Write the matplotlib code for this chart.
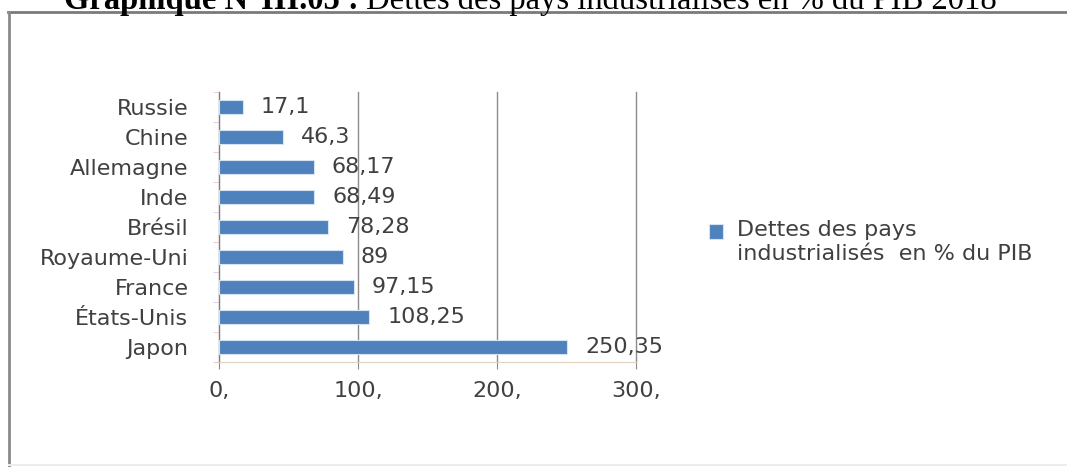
import matplotlib.pyplot as plt
from matplotlib.lines import Line2D

# debt as % of GDP, listed top to bottom
countries = ["Russie", "Chine", "Allemagne", "Inde", "Brésil",
             "Royaume-Uni", "France", "États-Unis", "Japon"]
debt = [17.1, 46.3, 68.17, 68.49, 78.28, 89, 97.15, 108.25, 250.35]
debt_labels = ["17,1", "46,3", "68,17", "68,49", "78,28",
               "89", "97,15", "108,25", "250,35"]
x_ticks = [0, 100, 200, 300]
x_tick_labels = ["0,", "100,", "200,", "300,"]
series_name = "Dettes des pays\nindustrialisés  en % du PIB"
title_bold = "Graphique N°III.05 :"
title_rest = "Dettes des pays industrialisés en % du PIB 2018"

W, H = 1067, 467
TXT = "#404040"
FS = 16

fig = plt.figure(figsize=(W / 100, H / 100), dpi=100)
ax = fig.add_axes([219 / W, 1 - 362 / H, (636 - 219) / W, (362 - 92) / H])

ypos = list(range(len(countries)))
ax.barh(ypos, debt, height=0.45, color="#4f81bd", edgecolor="#d5e3f3",
        linewidth=0.8, label=series_name, zorder=3)

for y, v, lab in zip(ypos, debt, debt_labels):
    ax.annotate(lab, (v, y), xytext=(13, 0), textcoords="offset points",
                va="center", ha="left", fontsize=FS, color=TXT, zorder=4)

ax.set_xlim(0, 300)
ax.set_ylim(len(countries) - 0.5, -0.5)
ax.set_xticks(x_ticks)
ax.set_xticklabels(x_tick_labels)
ax.set_yticks(ypos)
ax.set_yticklabels(countries)
ax.set_yticks([i - 0.5 for i in range(len(countries) + 1)], minor=True)

ax.xaxis.grid(True, color="#8c8c8c", linewidth=1)
for gl in ax.get_xgridlines():
    gl.set_clip_on(False)
ax.set_axisbelow(True)
for s in ("top", "right"):
    ax.spines[s].set_visible(False)
ax.spines["left"].set_color("#7f7f7f")
ax.spines["bottom"].set_color("#e2d2c2")

ax.tick_params(axis="x", length=5, color="#8c8c8c", labelsize=FS,
               labelcolor=TXT, pad=9)
ax.tick_params(axis="y", which="major", length=0, labelsize=FS,
               labelcolor=TXT, pad=22)
ax.tick_params(axis="y", which="minor", length=4, color="#e0c4d4")

leg = fig.legend(loc="center left", bbox_to_anchor=(700 / W, 1 - 242 / H),
                 frameon=False, fontsize=FS, handlelength=0.65,
                 handleheight=0.65, handletextpad=0.6, labelcolor=TXT,
                 borderaxespad=0)
# put the swatch next to the first line of the label
sw = leg.legend_handles[0]
sw.set_y(sw.get_y() + 8)

# outer frame of the figure block
fig.add_artist(Line2D([8 / W, 1], [1 - 12 / H] * 2, color="#7a7a7a", lw=2))
fig.add_artist(Line2D([9 / W] * 2, [1 - 12 / H, 0], color="#8a8a8a", lw=2))
fig.add_artist(Line2D([9 / W, 1], [1 - 465 / H] * 2, color="#ececec", lw=1.5))

# title sits above the frame, cut by the top edge
rest = fig.text(997 / W, 1 - 9 / H, title_rest, ha="right", va="baseline",
                fontsize=23.5, family="Liberation Serif", color="black")
fig.canvas.draw()
bb = rest.get_window_extent()
fig.text((bb.x0 - 7) / W, 1 - 9 / H, title_bold, ha="right", va="baseline",
         fontsize=23.5, family="Liberation Serif", weight="bold", color="black")

fig.savefig("out.png", dpi=100)
